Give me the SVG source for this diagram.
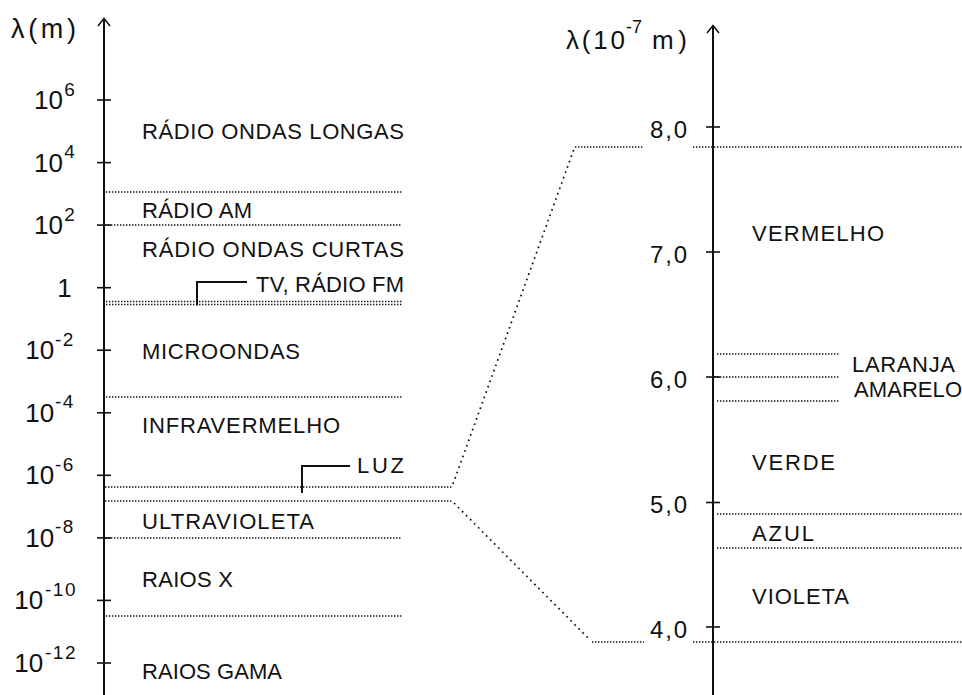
<svg xmlns="http://www.w3.org/2000/svg" width="962" height="695" viewBox="0 0 962 695">
<style>
text{font-family:"Liberation Sans",Arial,sans-serif;fill:#111}
.lbl{font-size:22px}
.tk{font-size:26px}
.sup{font-size:19px}
.neg{letter-spacing:1.5px}
.rtk{font-size:24px}
.ttl{font-size:27px}
.axis{stroke:#111;stroke-width:2;fill:none}
.tick{stroke:#111;stroke-width:1.6}
.arr{stroke:#111;stroke-width:1.5;fill:none}
.dot{stroke:#111;stroke-width:1.4;stroke-dasharray:1.4 1.6;fill:none}
.slant{stroke:#111;stroke-width:1.7;stroke-dasharray:1.7 4;fill:none}
.lead{stroke:#111;stroke-width:2;fill:none}
</style>
<rect width="962" height="695" fill="#fff"/>

<g id="left-axis">
<line class="axis" x1="104" y1="695" x2="104" y2="19"/>
<polyline class="arr" points="98,26 104,18.5 110,26"/>
<g>
<line class="tick" x1="97" y1="100" x2="111" y2="100"/>
<line class="tick" x1="97" y1="162.6" x2="111" y2="162.6"/>
<line class="tick" x1="97" y1="225.1" x2="111" y2="225.1"/>
<line class="tick" x1="97" y1="287.7" x2="111" y2="287.7"/>
<line class="tick" x1="97" y1="350.2" x2="111" y2="350.2"/>
<line class="tick" x1="97" y1="412.8" x2="111" y2="412.8"/>
<line class="tick" x1="97" y1="475.3" x2="111" y2="475.3"/>
<line class="tick" x1="97" y1="537.9" x2="111" y2="537.9"/>
<line class="tick" x1="97" y1="600.4" x2="111" y2="600.4"/>
<line class="tick" x1="97" y1="663" x2="111" y2="663"/>
</g>
<text class="ttl" x="11" y="38" textLength="65" lengthAdjust="spacing">λ(m)</text>
<text class="tk" x="34" y="109">10<tspan class="sup" x="64.3" y="95.5">6</tspan></text>
<text class="tk" x="34" y="171.6">10<tspan class="sup" x="64.3" y="158">4</tspan></text>
<text class="tk" x="34" y="234.1">10<tspan class="sup" x="64.3" y="220.6">2</tspan></text>
<text class="tk" x="57.2" y="296.7">1</text>
<text class="tk" x="25.2" y="359.2">10<tspan class="sup neg" x="55" y="345.7">-2</tspan></text>
<text class="tk" x="25.2" y="421.8">10<tspan class="sup neg" x="55" y="408.3">-4</tspan></text>
<text class="tk" x="25.2" y="484.3">10<tspan class="sup neg" x="55" y="470.8">-6</tspan></text>
<text class="tk" x="25.2" y="546.9">10<tspan class="sup neg" x="55" y="533.4">-8</tspan></text>
<text class="tk" x="14.2" y="609.4">10<tspan class="sup neg" x="45" y="595.9">-10</tspan></text>
<text class="tk" x="14.2" y="672">10<tspan class="sup neg" x="45" y="658.5">-12</tspan></text>
</g>

<g id="right-axis">
<line class="axis" x1="713" y1="695" x2="713" y2="26"/>
<polyline class="arr" points="707,33 713,25.5 719,33"/>
<line class="tick" x1="706" y1="127" x2="720" y2="127"/>
<line class="tick" x1="706" y1="252" x2="720" y2="252"/>
<line class="tick" x1="706" y1="377" x2="720" y2="377"/>
<line class="tick" x1="706" y1="502.5" x2="720" y2="502.5"/>
<line class="tick" x1="706" y1="627" x2="720" y2="627"/>
<text class="ttl" style="font-size:26px" x="566" y="49" textLength="59" lengthAdjust="spacing">λ(10</text>
<text class="sup" style="font-size:18px" x="626" y="33">-7</text>
<text class="ttl" style="font-size:26px" x="652" y="49" textLength="35" lengthAdjust="spacing">m)</text>
<text class="rtk" x="650" y="137.5" textLength="37" lengthAdjust="spacing">8,0</text>
<text class="rtk" x="650" y="262.5" textLength="37" lengthAdjust="spacing">7,0</text>
<text class="rtk" x="650" y="387.5" textLength="37" lengthAdjust="spacing">6,0</text>
<text class="rtk" x="650" y="513" textLength="37" lengthAdjust="spacing">5,0</text>
<text class="rtk" x="650" y="637.5" textLength="37" lengthAdjust="spacing">4,0</text>
</g>

<g id="connectors">
<line class="dot" x1="106" y1="192" x2="402" y2="192"/>
<line class="dot" x1="105" y1="225" x2="402" y2="225"/>
<line class="dot" x1="106" y1="301.5" x2="402" y2="301.5"/>
<line class="dot" x1="106" y1="304.5" x2="402" y2="304.5"/>
<line class="dot" x1="106" y1="397" x2="402" y2="397"/>
<line class="dot" x1="105" y1="487" x2="452" y2="487"/>
<line class="dot" x1="105" y1="501" x2="452" y2="501"/>
<line class="dot" x1="105" y1="538" x2="402" y2="538"/>
<line class="dot" x1="106" y1="616" x2="402" y2="616"/>
<line class="slant" x1="453" y1="484" x2="574" y2="149"/>
<line class="slant" x1="454" y1="503" x2="590" y2="640"/>
<line class="dot" x1="575" y1="147" x2="644" y2="147"/>
<line class="dot" x1="693" y1="147" x2="962" y2="147"/>
<line class="dot" x1="717" y1="354" x2="840" y2="354"/>
<line class="dot" x1="714" y1="377" x2="840" y2="377"/>
<line class="dot" x1="717" y1="401" x2="840" y2="401"/>
<line class="dot" x1="717" y1="514" x2="962" y2="514"/>
<line class="dot" x1="717" y1="548" x2="962" y2="548"/>
<line class="dot" x1="592" y1="642" x2="644" y2="642"/>
<line class="dot" x1="693" y1="642" x2="962" y2="642"/>
<polyline class="lead" points="197,305.5 197,282 247,282"/>
<polyline class="lead" points="302,493 302,466 350,466"/>
</g>

<g id="radio-longas"><text class="lbl" x="142" y="139" textLength="262" lengthAdjust="spacing">RÁDIO ONDAS LONGAS</text></g>
<g id="radio-am"><text class="lbl" x="142" y="218" textLength="110" lengthAdjust="spacing">RÁDIO AM</text></g>
<g id="radio-curtas"><text class="lbl" x="142" y="257" textLength="262" lengthAdjust="spacing">RÁDIO ONDAS CURTAS</text></g>
<g id="tv-fm"><text class="lbl" x="256" y="292" textLength="148" lengthAdjust="spacing">TV, RÁDIO FM</text></g>
<g id="microondas"><text class="lbl" x="142" y="359" textLength="158" lengthAdjust="spacing">MICROONDAS</text></g>
<g id="infravermelho"><text class="lbl" x="142" y="433" textLength="198" lengthAdjust="spacing">INFRAVERMELHO</text></g>
<g id="luz"><text class="lbl" x="357" y="473" textLength="47" lengthAdjust="spacing">LUZ</text></g>
<g id="ultravioleta"><text class="lbl" x="142" y="529" textLength="172" lengthAdjust="spacing">ULTRAVIOLETA</text></g>
<g id="raios-x"><text class="lbl" x="142" y="587" textLength="91" lengthAdjust="spacing">RAIOS X</text></g>
<g id="raios-gama"><text class="lbl" x="142" y="679" textLength="140" lengthAdjust="spacing">RAIOS GAMA</text></g>

<g id="vermelho"><text class="lbl" x="752" y="241" textLength="132" lengthAdjust="spacing">VERMELHO</text></g>
<g id="laranja"><text class="lbl" x="852" y="372" textLength="103" lengthAdjust="spacing">LARANJA</text></g>
<g id="amarelo"><text class="lbl" x="854" y="397" textLength="108" lengthAdjust="spacing">AMARELO</text></g>
<g id="verde"><text class="lbl" x="752" y="470" textLength="83" lengthAdjust="spacing">VERDE</text></g>
<g id="azul"><text class="lbl" x="752" y="541" textLength="62" lengthAdjust="spacing">AZUL</text></g>
<g id="violeta"><text class="lbl" x="752" y="604" textLength="97" lengthAdjust="spacing">VIOLETA</text></g>
</svg>
